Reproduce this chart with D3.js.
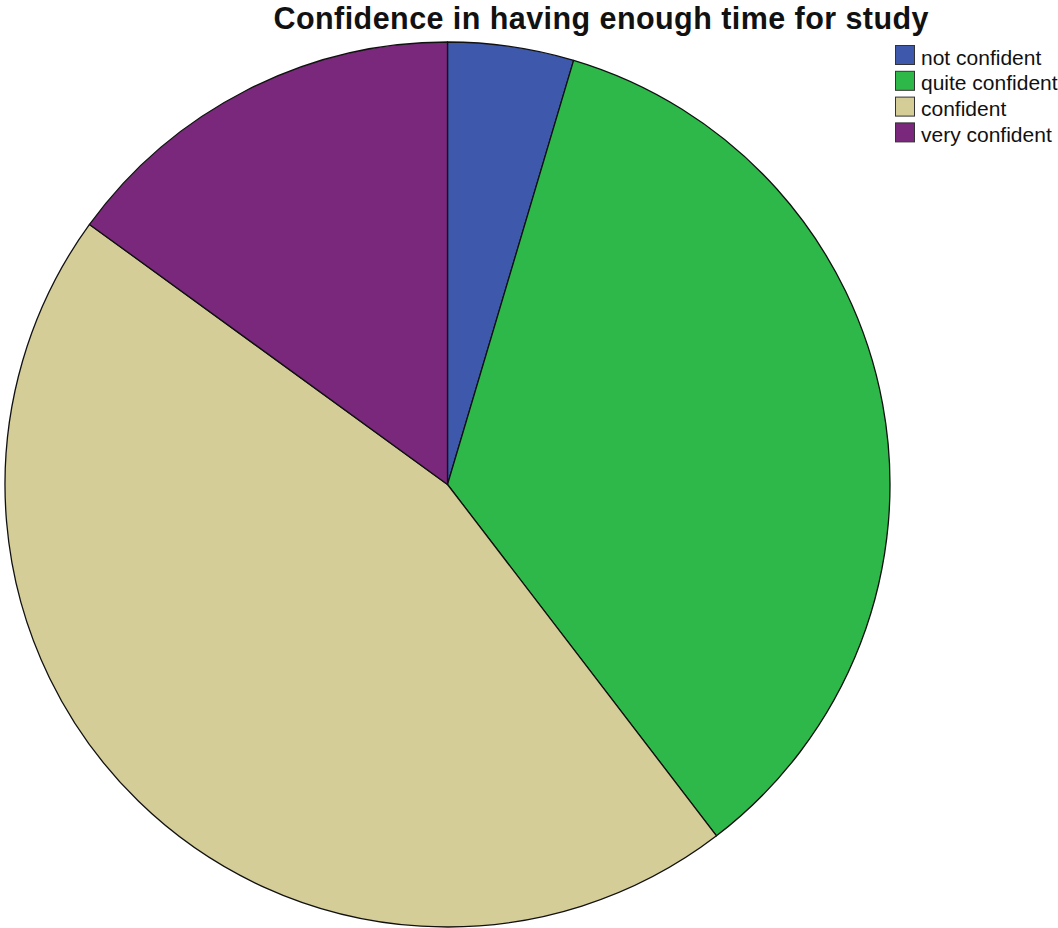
<!DOCTYPE html>
<html>
<head>
<meta charset="utf-8">
<script src="https://cdn.jsdelivr.net/npm/d3@7"></script>
<style>
  html, body { margin: 0; padding: 0; background: #fff; }
  svg { display: block; }
</style>
</head>
<body>
<svg id="chart" width="1058" height="928"></svg>
<script>
// Response categories and their share of answers (percent)
const categories = ["not confident", "quite confident", "confident", "very confident"];
const values = [4.6, 35.0, 45.4, 15.0];
const colors = ["#3e58ac", "#2fb84a", "#d4cd98", "#7a287c"];

const title = "Confidence in having enough time for study";

const svg = d3.select("#chart");
const cx = 447.5, cy = 484.5, radius = 442.5;

const data = categories.map((c, i) => ({ category: c, value: values[i] }));

const color = d3.scaleOrdinal().domain(categories).range(colors);

// Slices run clockwise from 12 o'clock in category order
const pie = d3.pie()
  .value(d => d.value)
  .sort(null)
  .startAngle(0)
  .endAngle(2 * Math.PI);

const arc = d3.arc().innerRadius(0).outerRadius(radius);

svg.append("g")
  .attr("transform", `translate(${cx},${cy})`)
  .selectAll("path")
  .data(pie(data))
  .join("path")
  .attr("d", arc)
  .attr("fill", d => color(d.data.category))
  .attr("stroke", "#111")
  .attr("stroke-width", 1.3)
  .attr("stroke-linejoin", "round");

// Title
svg.append("text")
  .attr("x", 601)
  .attr("y", 29)
  .attr("text-anchor", "middle")
  .attr("font-family", "'Liberation Sans', Arial, sans-serif")
  .attr("font-weight", "bold")
  .attr("font-size", 30.5)
  .attr("textLength", 655)
  .attr("lengthAdjust", "spacing")
  .attr("fill", "#111")
  .text(title);

// Legend
const legend = svg.append("g").attr("transform", "translate(895,45)");
const row = legend.selectAll("g")
  .data(categories)
  .join("g")
  .attr("transform", (d, i) => `translate(0,${i * 25.8})`);

row.append("rect")
  .attr("x", 0.5)
  .attr("y", 0.5)
  .attr("width", 19)
  .attr("height", 19)
  .attr("fill", d => color(d))
  .attr("stroke", "#333")
  .attr("stroke-width", 1);

row.append("text")
  .attr("x", 26)
  .attr("y", 19.5)
  .attr("font-family", "'Liberation Sans', Arial, sans-serif")
  .attr("font-size", 21)
  .attr("fill", "#111")
  .text(d => d);
</script>
</body>
</html>
